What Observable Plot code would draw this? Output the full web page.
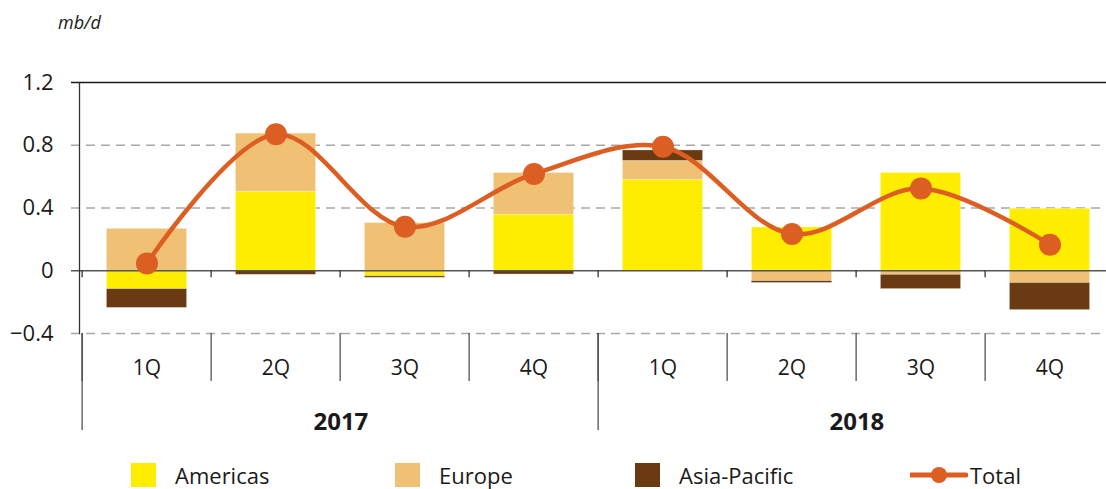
<!DOCTYPE html>
<html>
<head>
<meta charset="utf-8">
<script src="https://cdn.jsdelivr.net/npm/d3@7"></script>
<script src="https://cdn.jsdelivr.net/npm/@observablehq/plot@0.6"></script>
<style>
  html, body { margin: 0; padding: 0; background: #fff; overflow: hidden; width: 1106px; height: 489px; }
  body { position: relative; font-family: "Open Sans", sans-serif; color: #1a1a1a; }
  #unit { position: absolute; left: 58px; top: 10px; font-size: 18px; font-style: italic; }
  #chart { position: absolute; left: 0; top: 0; }
  .legend { position: absolute; top: 462px; height: 26px; display: flex; align-items: center; font-size: 22px; }
  .sw { width: 25px; height: 24px; margin-right: 19px; }
</style>
</head>
<body>
<div id="unit">mb/d</div>
<div id="chart"></div>
<div id="legend"></div>
<script>
const years = ["2017", "2017", "2017", "2017", "2018", "2018", "2018", "2018"];
const quarters = ["1Q", "2Q", "3Q", "4Q", "1Q", "2Q", "3Q", "4Q"];
const regions = ["Americas", "Europe", "Asia-Pacific"];
const americas = [-0.117, 0.504, -0.035, 0.357, 0.58, 0.276, 0.623, 0.395];
const europe = [0.267, 0.37, 0.304, 0.266, 0.12, -0.066, -0.026, -0.078];
const asiaPacific = [-0.12, -0.026, -0.01, -0.024, 0.067, -0.012, -0.091, -0.173];
const total = [0.047, 0.87, 0.28, 0.617, 0.79, 0.234, 0.525, 0.166];
const yTicks = [-0.4, 0, 0.4, 0.8, 1.2];
const yearLabels = ["2017", "2018"];

const colors = {"Americas": "#FFED00", "Europe": "#F0C074", "Asia-Pacific": "#6A3B13"};
const totalColor = "#DC5E22";

const keys = years.map((y, i) => y + " " + quarters[i]);
const series = [americas, europe, asiaPacific];
const rows = [];
regions.forEach((r, j) => keys.forEach((k, i) => rows.push({key: k, region: r, value: series[j][i]})));
const totals = keys.map((k, i) => ({key: k, value: total[i]}));
const yearRows = yearLabels.map(y => ({year: y, key: y + " 2Q"}));
const yearStarts = yearLabels.map(y => y + " 1Q");

const width = 1106, marginLeft = 79, marginRight = -11;
const bw = (width - marginLeft - marginRight) / keys.length;
const font = '"Open Sans", sans-serif';

const plot = Plot.plot({
  width, height: 440,
  marginLeft, marginRight, marginTop: 82, marginBottom: 107,
  style: {fontFamily: font, fontSize: "22px", color: "#1a1a1a", background: "transparent", maxWidth: "none", overflow: "visible"},
  x: {domain: keys, padding: 0, label: null},
  y: {domain: [-0.4, 1.2], label: null},
  marks: [
    Plot.ruleY([-0.4, 0.4, 0.8], {stroke: "#a8a8a8", strokeWidth: 1.3, strokeDasharray: "9,6", insetLeft: -8}),
    Plot.barY(rows, {x: "key", y: "value", fill: d => colors[d.region], order: regions, z: "region", insetLeft: 24.4, insetRight: 24.4, stroke: "#fff", strokeOpacity: 0.35, strokeWidth: 0.8}),
    Plot.ruleY([1.2], {stroke: "#1a1a1a", strokeWidth: 1.3, insetLeft: -8}),
    Plot.ruleY([0], {stroke: "#555", strokeWidth: 1.3, insetLeft: -8}),
    Plot.ruleX(keys, {x: d => d, y1: 0, y2: 0, insetBottom: -7, dx: -bw / 2, stroke: "#333", strokeWidth: 1.3}),
    Plot.frame({anchor: "left", stroke: "#333", strokeWidth: 1.3}),
    Plot.axisY({ticks: yTicks, tickFormat: d => String(d).replace("-", "\u2212"), tickSize: 0, tickPadding: 26, fontSize: 22, fill: "#1a1a1a"}),
    Plot.axisX({ticks: keys, tickFormat: k => k.split(" ")[1], tickSize: 0, tickPadding: 0, dy: 27, fontSize: 21, fill: "#1a1a1a"}),
    Plot.axisX({ticks: keys, text: null, tickSize: 48, dx: -bw / 2, stroke: "#444", strokeWidth: 1.2}),
    Plot.axisX({ticks: yearStarts, text: null, tickSize: 97, dx: -bw / 2, stroke: "#444", strokeWidth: 1.2}),
    Plot.text(yearRows, {x: "key", text: "year", frameAnchor: "bottom", dx: bw / 2, dy: 96, fontWeight: "bold", fontSize: 24, fill: "#1a1a1a"}),
    Plot.line(totals, {x: "key", y: "value", curve: "catmull-rom", stroke: totalColor, strokeWidth: 4.5}),
    Plot.dot(totals, {x: "key", y: "value", r: 11, fill: totalColor, stroke: "none"})
  ]
});
document.getElementById("chart").appendChild(plot);

// Legend
const legend = document.getElementById("legend");
const legendItems = [
  {label: "Americas", left: 131},
  {label: "Europe", left: 395},
  {label: "Asia-Pacific", left: 635}
];
legendItems.forEach(it => {
  const d = document.createElement("div");
  d.className = "legend";
  d.style.left = it.left + "px";
  d.innerHTML = `<div class="sw" style="background:${colors[it.label]}"></div><span>${it.label}</span>`;
  legend.appendChild(d);
});
const t = document.createElement("div");
t.className = "legend";
t.style.left = "910px";
t.innerHTML = `<svg width="58" height="26" style="margin-right:2px"><line x1="1" y1="13" x2="56" y2="13" stroke="${totalColor}" stroke-width="5" stroke-linecap="round"/><circle cx="29" cy="13" r="8" fill="${totalColor}"/></svg><span>Total</span>`;
legend.appendChild(t);
</script>
</body>
</html>
